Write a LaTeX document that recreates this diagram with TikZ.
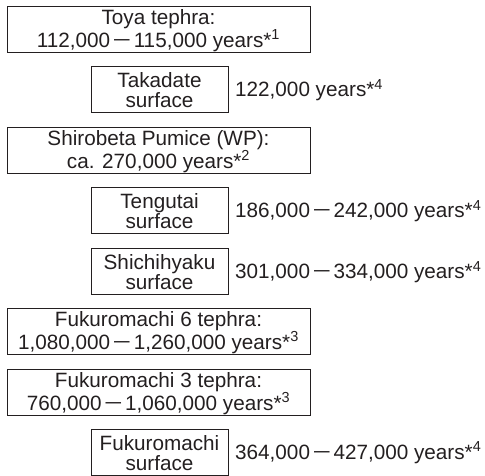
\documentclass[tikz,border=0pt]{standalone}
\usepackage{fontspec}
\usepackage{graphicx}
\setmainfont{Liberation Sans}
\definecolor{ink}{RGB}{35,31,32}
\newcommand\dsh{\kern4pt\raisebox{2pt}{\scalebox{0.75}[1]{—}}\kern4pt}
\newcommand\note[1]{*\textsuperscript{#1}}
\tikzset{
  box/.style={draw=ink, line width=1pt, text=ink, inner sep=0pt, align=center,
    font=\fontsize{20.7}{20}\selectfont, text height=41pt, text depth=5pt},
  bigbox/.style={box, minimum width=303pt},
  smallbox/.style={box, minimum width=137pt},
  lab/.style={anchor=west, inner sep=0pt, text=ink, font=\fontsize{20.7}{20}\selectfont,
    text height=14.6pt, text depth=0pt, xshift=6.5pt}
}
\begin{document}
\begin{tikzpicture}[x=1pt,y=-1pt]
\useasboundingbox (0,0) rectangle (485,475);
\node[bigbox] (toya) at (158.5,29) {Toya tephra:\\112,000\dsh115,000 years\note{1}};
\node[smallbox] (taka) at (159.5,89.5) {Takadate\\surface};
\node[lab] (takal) at (taka.east) {122,000 years\note{4}};
\node[bigbox] (shiro) at (158.5,150) {Shirobeta Pumice (WP):\\ca. 270,000 years\note{2}};
\node[smallbox] (teng) at (159.5,210.5) {Tengutai\\surface};
\node[lab] (tengl) at (teng.east) {186,000\dsh242,000 years\note{4}};
\node[smallbox] (shichi) at (159.5,271.5) {Shichihyaku\\surface};
\node[lab] (shichil) at (shichi.east) {301,000\dsh334,000 years\note{4}};
\node[bigbox] (f6) at (158.5,331.5) {Fukuromachi 6 tephra:\\1,080,000\dsh1,260,000 years\note{3}};
\node[bigbox] (f3) at (158.5,392) {Fukuromachi 3 tephra:\\760,000\dsh1,060,000 years\note{3}};
\node[smallbox] (fs) at (159.5,452) {Fukuromachi\\surface};
\node[lab] (fsl) at (fs.east) {364,000\dsh427,000 years\note{4}};
\end{tikzpicture}
\end{document}
